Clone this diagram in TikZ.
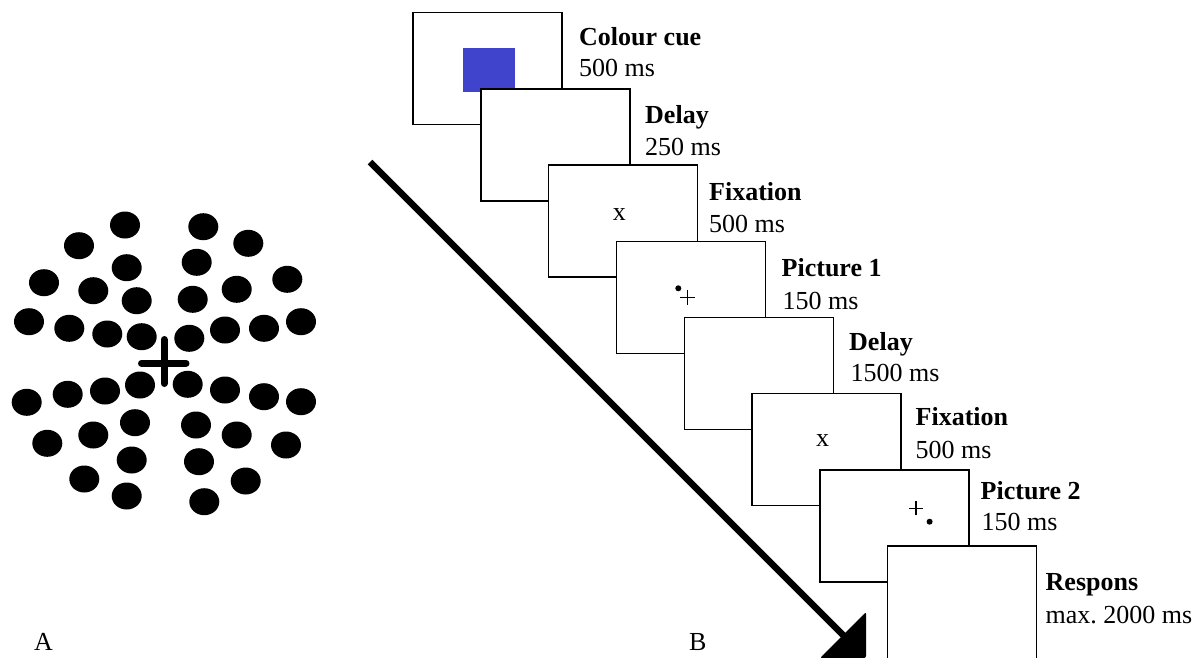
\documentclass[tikz,border=0pt]{standalone}
\usepackage{fontspec}
\setmainfont{Liberation Serif}
\frenchspacing
\definecolor{cueblue}{RGB}{64,68,204}
\begin{document}
\begin{tikzpicture}[x=1pt,y=-1pt,
  stim/.style={draw=black, line width=1.4pt, fill=white, minimum width=149pt, minimum height=112pt, inner sep=0pt, outer sep=0pt, anchor=north west},
  ttl/.style={anchor=base west, inner sep=0pt, font=\fontsize{26}{31}\selectfont\bfseries},
  dur/.style={anchor=base west, inner sep=0pt, font=\fontsize{26}{31}\selectfont},
  fixx/.style={inner sep=0pt, font=\fontsize{26}{31}\selectfont},
  smallplus/.style={line width=1.3pt},
  bigdot/.style={fill=black}]
\fill[white] (0,0) rectangle (1200,657);
\useasboundingbox (0,0) rectangle (1200,657);

% ---- Panel A: dot field ----
\foreach \px/\py in {125/225, 203.3/226.7, 79/245.7, 248.3/243.3, 126.7/267.7, 196.7/262.3,
  44/282.7, 287.3/279.3, 93.3/290.7, 236.7/289.3, 136.7/300.7, 192.7/299.3,
  29/321.7, 69.3/328.3, 107.3/334, 141.7/336.7, 189.3/338.3, 225/330, 264/328.3, 301/321.7,
  26.7/402.3, 67.7/394.3, 105/391, 140/385, 187.7/384.3, 225/390, 264/396.7, 301/401.7,
  47.3/443.3, 93.3/435, 135/422.7, 196/425, 236.7/435, 286/445,
  131.7/460, 199/461.7, 84.3/479, 245.7/481, 126.7/496, 204.3/501.7}
  \fill[bigdot] (\px,\py) ellipse [x radius=15pt, y radius=13.5pt];
\coordinate (crossL) at (141.5,363.3);
\coordinate (crossR) at (186,363.3);
\coordinate (crossT) at (164,339.5);
\coordinate (crossB) at (164,383.5);
\draw[line width=7pt, line cap=round] (crossL) -- (crossR);
\draw[line width=7pt, line cap=round] (crossT) -- (crossB);

\node[fixx, anchor=base west] (labA) at (34,650) {A};
\node[fixx, anchor=base west] (labB) at (689,650) {B};

% ---- Time arrow ----
\coordinate (arrS) at (370,162);
\coordinate (arrE) at (846,638);
\coordinate (headA) at (866,612);
\coordinate (headB) at (820,658);
\coordinate (headC) at (866,658);
\draw[line width=6.5pt] (arrS) -- (arrE);
\fill[black, rounded corners=2pt] (headA) -- (headC) -- (headB) -- cycle;

% ---- Panel B: stimulus frames ----
\node[stim] (f1) at (413,12.7) {};
\fill[cueblue] (463.3,47.7) rectangle (514.7,92);
\node[stim] (f2) at (480.8,88.9) {};
\node[stim] (f3) at (548.6,165.1) {};
\node[fixx] (x1) at (619.3,215) {x};
\node[stim] (f4) at (616.4,241.3) {};
\fill[black] (678.3,288.3) circle (3pt);
\coordinate (p1c) at (687.7,297.3);
\draw[smallplus] ([xshift=-7.5pt]p1c) -- ([xshift=7.5pt]p1c);
\draw[smallplus] ([yshift=-7.5pt]p1c) -- ([yshift=7.5pt]p1c);
\node[stim] (f5) at (684.2,317.5) {};
\node[stim] (f6) at (752,393.7) {};
\node[fixx] (x2) at (822.7,441) {x};
\node[stim] (f7) at (819.8,469.9) {};
\coordinate (p2c) at (916,508.3);
\draw[smallplus] ([xshift=-7pt]p2c) -- ([xshift=7pt]p2c);
\draw[smallplus] ([yshift=-7pt]p2c) -- ([yshift=7pt]p2c);
\fill[black] (929.6,521.7) circle (3pt);
\node[stim, minimum height=116pt] (f8) at (887.6,546.1) {};

% ---- Labels ----
\node[ttl] (t1) at (579,45) {Colour cue};
\node[dur] (d1) at (579,76) {500 ms};
\node[ttl] (t2) at (645,123.3) {Delay};
\node[dur] (d2) at (645,155) {250 ms};
\node[ttl] (t3) at (709,200) {Fixation};
\node[dur] (d3) at (709,232.7) {500 ms};
\node[ttl] (t4) at (781.5,276.7) {Picture 1};
\node[dur] (d4) at (782.5,309.3) {150 ms};
\node[ttl] (t5) at (849,350) {Delay};
\node[dur] (d5) at (850.5,381.7) {1500 ms};
\node[ttl] (t6) at (915.5,425) {Fixation};
\node[dur] (d6) at (915.5,458.3) {500 ms};
\node[ttl] (t7) at (980.5,499.3) {Picture 2};
\node[dur] (d7) at (981.5,530) {150 ms};
\node[ttl] (t8) at (1045.5,590.7) {Respons};
\node[dur] (d8) at (1045.5,623.3) {max. 2000 ms};
\end{tikzpicture}
\end{document}
